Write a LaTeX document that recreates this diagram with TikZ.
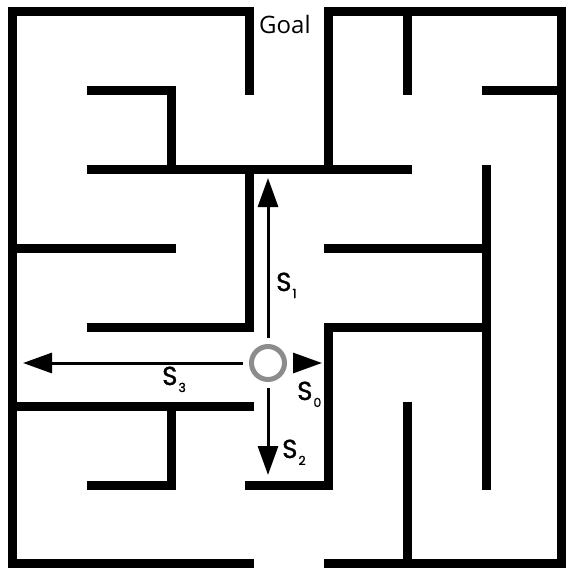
\documentclass[tikz,border=0pt]{standalone}
\usepackage{fontspec}
\setmainfont{Open Sans}
\newfontfamily\labelfont{Poppins}[FakeBold=1.2]
\usetikzlibrary{arrows.meta}
\definecolor{ringgray}{HTML}{8C8C8C}
% action label: S with a lowered index
\newcommand{\actlabel}[1]{{\labelfont\fontsize{26}{26}\selectfont S\kern1pt\raisebox{-7pt}{\fontsize{12.5}{12.5}\selectfont #1}}}

\begin{document}
\begin{tikzpicture}[x=1pt,y=-1pt,
  wall/.style={line width=9pt, line cap=rect, line join=miter, black},
  move/.style={line width=3pt, -{Triangle[length=29pt,width=20pt]}, shorten <=6pt},
  agent/.style={circle, draw=ringgray, line width=5pt, minimum size=33pt, inner sep=0pt},
  actname/.style={anchor=base west, inner sep=0pt}]
\useasboundingbox (0,0) rectangle (565,570);

% outer walls (openings at the top and at the bottom)
\draw[wall] (249.5,90.5) -- (249.5,11.5) -- (12.5,11.5) -- (12.5,563) -- (249.5,563);
\draw[wall] (328,169) -- (328,11.5) -- (561,11.5) -- (561,563) -- (328,563);

% inner walls
\draw[wall] (407.5,11.5) -- (407.5,90.5);
\draw[wall] (486.5,90.5) -- (561,90.5);
\draw[wall] (91,90.5) -- (171,90.5) -- (171,169);
\draw[wall] (91,169) -- (407.5,169);
\draw[wall] (249.5,169) -- (249.5,327.5) -- (91,327.5);
\draw[wall] (12.5,248.5) -- (171,248.5);
\draw[wall] (328,248.5) -- (486.5,248.5);
\draw[wall] (486.5,169) -- (486.5,485.5);
\draw[wall] (486.5,327.5) -- (328,327.5) -- (328,485.5) -- (249.5,485.5);
\draw[wall] (12.5,406.5) -- (249.5,406.5);
\draw[wall] (171,406.5) -- (171,485.5) -- (91,485.5);
\draw[wall] (407.5,406.5) -- (407.5,563);

% goal label in the top opening
\node[anchor=base west, inner sep=0pt, font=\fontsize{24}{24}\selectfont] (goal) at (259,33) {Goal};

% agent and its four moves
\node[agent] (agent) at (268,363) {};
\coordinate (tipup) at (268,178);
\coordinate (tipleft) at (23,363);
\coordinate (tipdown) at (268,475);
\coordinate (tipright) at (322,363);
\draw[move] (agent) -- (tipup);
\draw[move] (agent) -- (tipleft);
\draw[move] (agent) -- (tipdown);
\draw[move] (agent) -- (tipright);

\node[actname] (s1) at (276,291) {\actlabel{1}};
\node[actname] (s3) at (162,385) {\actlabel{3}};
\node[actname] (s0) at (297,400) {\actlabel{0}};
\node[actname] (s2) at (282,458) {\actlabel{2}};
\end{tikzpicture}
\end{document}
